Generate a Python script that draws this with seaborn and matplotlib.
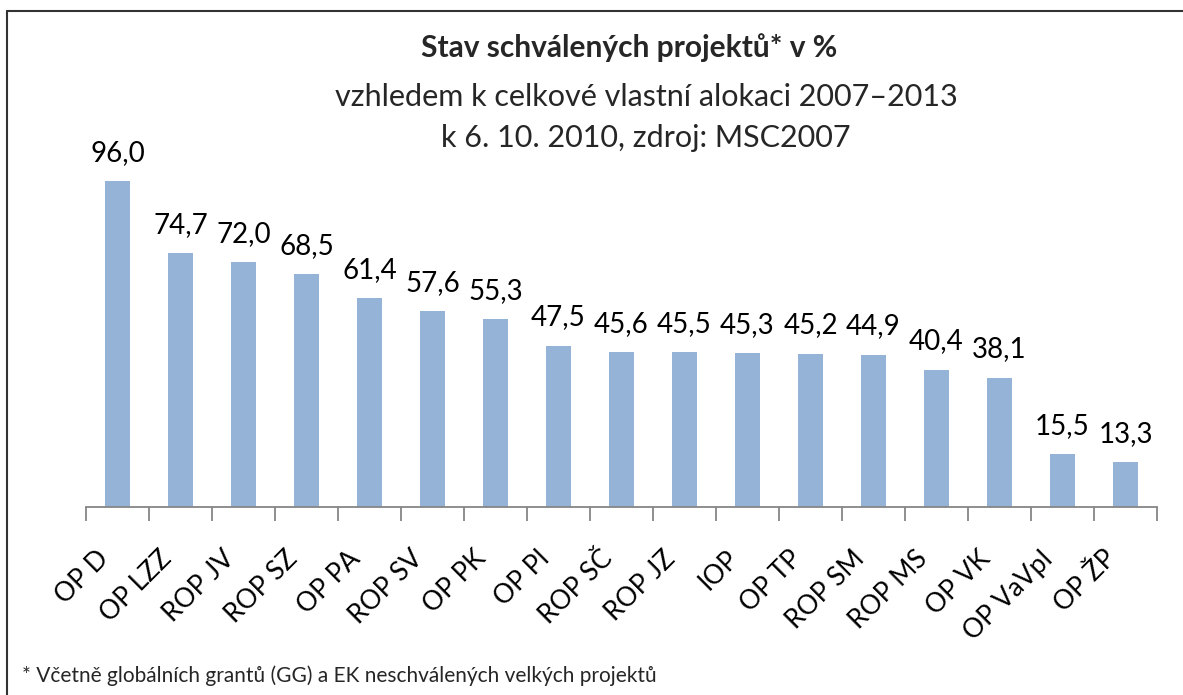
import matplotlib
matplotlib.use("Agg")
import matplotlib.pyplot as plt
import seaborn as sns
import pandas as pd
from matplotlib.lines import Line2D
from matplotlib.ticker import FixedLocator
from matplotlib.transforms import ScaledTranslation

categories = ["OP D", "OP LZZ", "ROP JV", "ROP SZ", "OP PA", "ROP SV", "OP PK", "OP PI",
              "ROP SČ", "ROP JZ", "IOP", "OP TP", "ROP SM", "ROP MS", "OP VK", "OP VaVpI", "OP ŽP"]
values = [96.0, 74.7, 72.0, 68.5, 61.4, 57.6, 55.3, 47.5, 45.6, 45.5, 45.3, 45.2, 44.9, 40.4, 38.1, 15.5, 13.3]

title = "Stav schválených projektů* v %"
subtitle1 = "vzhledem k celkové vlastní alokaci 2007–2013"
subtitle2 = "k 6. 10. 2010, zdroj: MSC2007"
footnote = "* Včetně globálních grantů (GG) a EK neschválených velkých projektů"

sns.set_theme(style="white")
plt.rcParams['font.family'] = ['Lato', 'DejaVu Sans']

W, H = 1183, 695
fig = plt.figure(figsize=(W / 100, H / 100), dpi=100)
ax_left, ax_right, ax_bottom = 86, 1157, 507
ymax = 100
px_per_unit = (507 - 181) / 96.0
ax_top = ax_bottom - ymax * px_per_unit
ax = fig.add_axes([ax_left / W, 1 - ax_bottom / H, (ax_right - ax_left) / W, (ax_bottom - ax_top) / H])

df = pd.DataFrame({"cat": categories, "val": values})
sns.barplot(data=df, x="cat", y="val", color="#95B3D7", saturation=1, width=0.41, ax=ax, edgecolor="none")
ax.set_xlim(-0.5, len(categories) - 0.5)
ax.set_ylim(0, ymax)

for s in ["top", "left", "right"]:
    ax.spines[s].set_visible(False)
ax.spines["bottom"].set_color("#868686")
ax.spines["bottom"].set_linewidth(1.3)
ax.set_yticks([])
ax.set_xlabel("")
ax.set_ylabel("")

ax.xaxis.set_minor_locator(FixedLocator([i - 0.5 for i in range(len(categories) + 1)]))
ax.tick_params(axis="x", which="minor", length=10, width=1.3, color="#868686", bottom=True)
ax.tick_params(axis="x", which="major", length=0, pad=28)
ax.set_xticks(range(len(categories)))
ax.set_xticklabels(categories, rotation=45, ha="right", va="top", rotation_mode="anchor",
                   fontsize=19, color="black")
shift = ScaledTranslation(-0.22, 0, fig.dpi_scale_trans)
for lbl in ax.get_xticklabels():
    lbl.set_transform(lbl.get_transform() + shift)

labels = [f"{v:.1f}".replace(".", ",") for v in values]
ax.bar_label(ax.containers[0], labels=labels, padding=11, fontsize=20, color="black")

fig.text(629 / W, 1 - 48 / H, title, ha="center", va="center", fontsize=21.5, fontweight="bold")
fig.text(646 / W, 1 - 97 / H, subtitle1, ha="center", va="center", fontsize=22)
fig.text(646 / W, 1 - 138 / H, subtitle2, ha="center", va="center", fontsize=22)
fig.text(22 / W, 1 - 676 / H, footnote, ha="left", va="center", fontsize=15)

fig.add_artist(Line2D([7 / W, 7 / W], [0, 1 - 11 / H], transform=fig.transFigure, color="#333333", lw=1.5))
fig.add_artist(Line2D([7 / W, 1], [1 - 11 / H, 1 - 11 / H], transform=fig.transFigure, color="#333333", lw=1.5))

fig.savefig("out.png", dpi=100)
